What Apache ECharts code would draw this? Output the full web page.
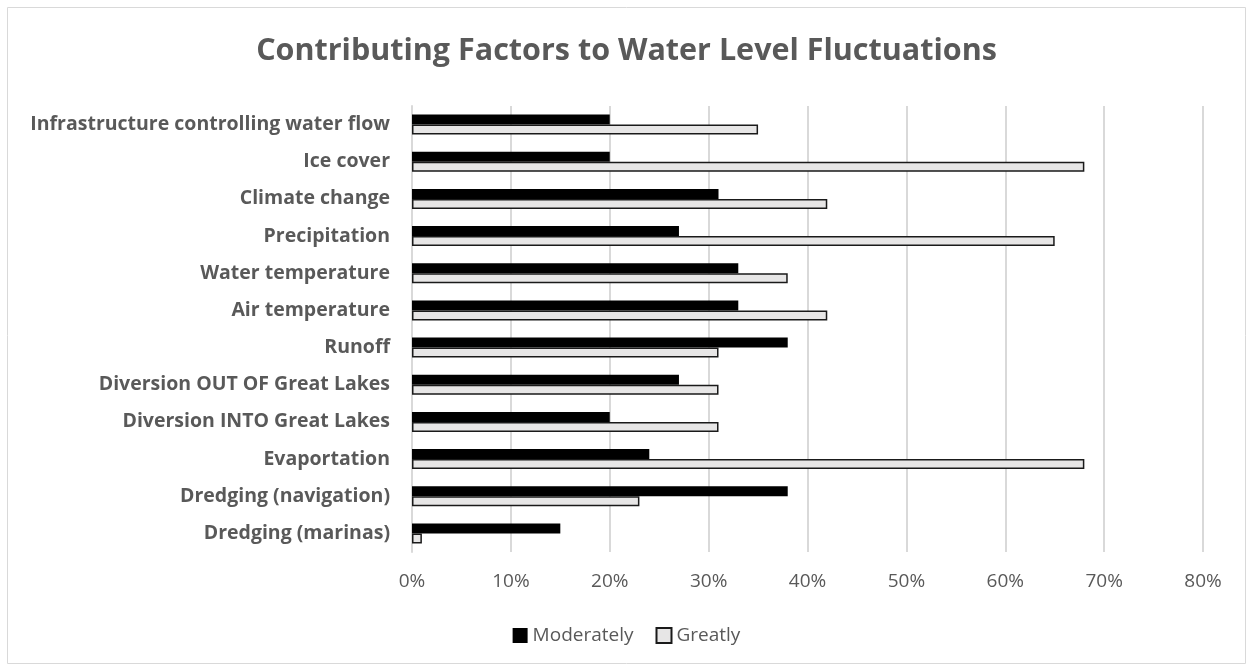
<!DOCTYPE html>
<html>
<head>
<meta charset="utf-8">
<script src="https://cdn.jsdelivr.net/npm/echarts@6/dist/echarts.min.js"></script>
<style>
  html, body { margin: 0; padding: 0; background: #fff; }
  #chart { width: 1253px; height: 671px; }
</style>
</head>
<body>
<div id="chart"></div>
<script>
// categories, top to bottom
let factors = [
    'Infrastructure controlling water flow',
    'Ice cover',
    'Climate change',
    'Precipitation',
    'Water temperature',
    'Air temperature',
    'Runoff',
    'Diversion OUT OF Great Lakes',
    'Diversion INTO Great Lakes',
    'Evaportation',
    'Dredging (navigation)',
    'Dredging (marinas)'
];
// percent of respondents
let moderately = [20, 20, 31, 27, 33, 33, 38, 27, 20, 24, 38, 15];
let greatly = [35, 68, 42, 65, 38, 42, 31, 31, 31, 68, 23, 1];
let tickValues = [0, 10, 20, 30, 40, 50, 60, 70, 80];

let chart = echarts.init(document.getElementById('chart'));
let font = '"Open Sans", sans-serif';

let option = {
    animation: false,
    textStyle: { fontFamily: font },
    graphic: [{
        type: 'rect',
        shape: { x: 7.5, y: 7.5, width: 1238, height: 656 },
        style: { fill: 'none', stroke: '#d9d9d9', lineWidth: 1 },
        silent: true
    }],
    title: {
        text: 'Contributing Factors to Water Level Fluctuations',
        left: 'center',
        top: 31,
        textStyle: { fontFamily: font, fontSize: 30.5, fontWeight: 'bold', color: '#595959' }
    },
    legend: {
        bottom: 21,
        left: 'center',
        icon: 'rect',
        itemWidth: 15,
        itemHeight: 15,
        itemGap: 22,
        textStyle: { fontFamily: font, fontSize: 19, color: '#595959' },
        data: ['Moderately', 'Greatly']
    },
    grid: {
        left: 412,
        right: 50,
        top: 106,
        bottom: 119
    },
    xAxis: {
        type: 'value',
        min: 0,
        max: 80,
        interval: 10,
        axisLine: { show: false },
        axisTick: { show: false },
        splitLine: { lineStyle: { color: '#d9d9d9', width: 2 } },
        axisLabel: {
            margin: 20,
            fontSize: 19,
            color: '#595959',
            formatter: function (v) {
                return tickValues.indexOf(v) > -1 ? v + '%' : '';
            }
        }
    },
    yAxis: {
        type: 'category',
        inverse: true,
        data: factors,
        axisTick: { show: false },
        axisLine: { lineStyle: { color: '#d9d9d9', width: 2 } },
        axisLabel: {
            margin: 22,
            fontSize: 19.5,
            fontWeight: 'bold',
            color: '#595959'
        }
    },
    series: [
        {
            name: 'Moderately',
            type: 'bar',
            barWidth: 10,
            barGap: '0%',
            itemStyle: { color: '#000000' },
            data: moderately
        },
        {
            name: 'Greatly',
            type: 'bar',
            barWidth: 10,
            barGap: '0%',
            itemStyle: { color: '#e7e6e6', borderColor: '#1a1a1a', borderWidth: 1.5 },
            data: greatly
        }
    ]
};

chart.setOption(option);
</script>
</body>
</html>
